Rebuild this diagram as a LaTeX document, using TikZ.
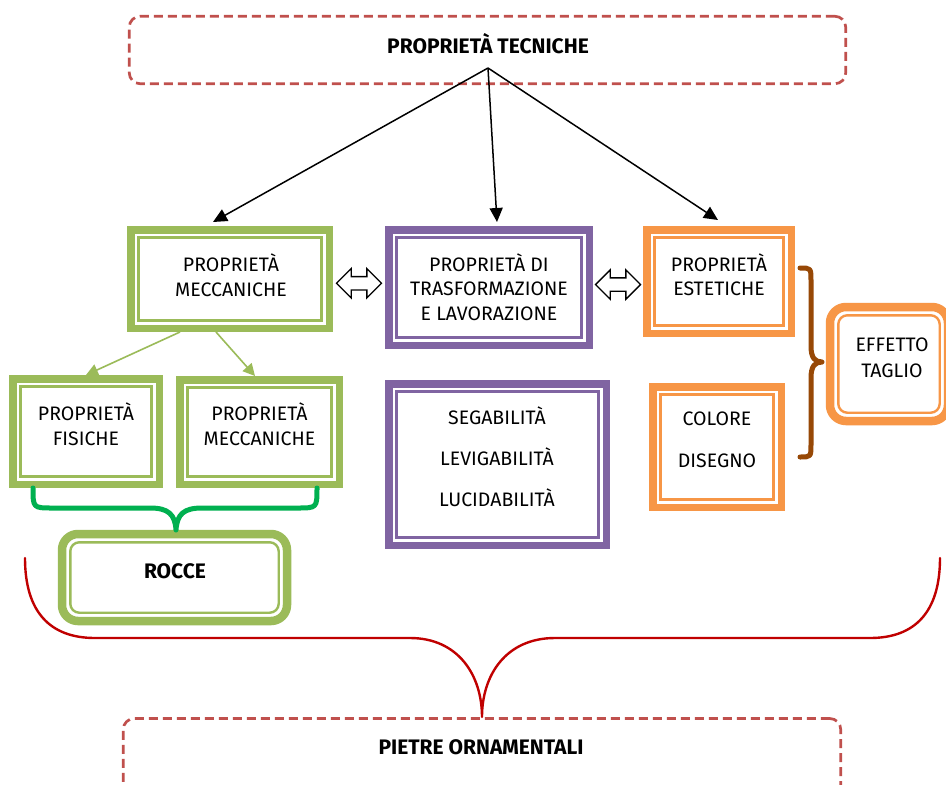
\documentclass[tikz,border=0pt]{standalone}
\usepackage{fontspec}
\setmainfont{Fira Sans}
\usetikzlibrary{shapes.arrows, arrows.meta, calc}

\definecolor{gcol}{HTML}{9BBB59}
\definecolor{pcol}{HTML}{8064A2}
\definecolor{ocol}{HTML}{F79646}
\definecolor{dashred}{HTML}{C0504D}
\definecolor{bracered}{HTML}{C00000}
\definecolor{bracegreen}{HTML}{00B050}
\definecolor{bracebrown}{HTML}{974806}

\tikzset{
  % square box: thick outer frame plus a thin inner frame
  dbox/.style={draw=#1, line width=7.5pt, inner sep=0pt, fill=white,
    path picture={\draw[draw=#1, line width=2.4pt]
      ([shift={(7.8pt,-7.8pt)}]path picture bounding box.north west) rectangle
      ([shift={(-7.8pt,7.8pt)}]path picture bounding box.south east);}},
  % rounded box with the same double frame
  rbox/.style={draw=#1, line width=8.5pt, inner sep=0pt, fill=white, rounded corners=16pt,
    path picture={\draw[draw=#1, line width=2.4pt, rounded corners=9pt]
      ([shift={(8.3pt,-8.3pt)}]path picture bounding box.north west) rectangle
      ([shift={(-8.3pt,8.3pt)}]path picture bounding box.south east);}},
  dashbox/.style={draw=dashred, line width=2.7pt, dash pattern=on 9pt off 5pt,
    rounded corners=11pt, inner sep=0pt},
  txt/.style={align=center, inner sep=0pt, font=\fontsize{19.5}{24.5}\selectfont},
  btxt/.style={align=center, inner sep=0pt, font=\fontsize{21}{24}\selectfont\bfseries},
  blk/.style={line width=1.5pt, -{Triangle[length=14pt,width=13pt]}},
  garr/.style={draw=gcol, line width=1.6pt, -{Triangle[length=12pt,width=12pt]}, color=gcol},
  dblarrow/.style={double arrow, draw=black, line width=1.4pt, fill=white,
    inner xsep=0pt, inner ysep=6pt, minimum height=45pt, double arrow head extend=8pt},
  brace/.style={line width=#1, line cap=round, line join=round},
}

\begin{document}
\begin{tikzpicture}[x=1pt, y=-1pt]
\clip (0,0) rectangle (946,785);
\fill[white] (0,0) rectangle (946,785);

% dashed title boxes
\node[dashbox, minimum width=716.5pt, minimum height=67.5pt] (tech) at (487.5,50) {};
\node[btxt] (techt) at (488,44) {PROPRIETÀ TECNICHE};
\node[dashbox, minimum width=717.5pt, minimum height=80pt] (orn) at (482,758.5) {};
\node[btxt] (ornt) at (481,747) {PIETRE ORNAMENTALI};

% first row
\node[dbox=gcol, minimum width=198.5pt, minimum height=98.5pt] (gm) at (230,279) {};
\node[txt] (gmt) at (231,275) {PROPRIETÀ\\MECCANICHE};
\node[dbox=pcol, minimum width=200.5pt, minimum height=115.5pt] (pt) at (489,287.5) {};
\node[txt] (ptt) at (489,287) {PROPRIETÀ DI\\TRASFORMAZIONE\\E LAVORAZIONE};
\node[dbox=ocol, minimum width=144.5pt, minimum height=103.5pt] (pe) at (719,281.5) {};
\node[txt] (pet) at (719,274.5) {PROPRIETÀ\\ESTETICHE};

% second row
\node[dbox=gcol, minimum width=146.5pt, minimum height=105.5pt] (pf) at (86,431.5) {};
\node[txt] (pft) at (86,424) {PROPRIETÀ\\FISICHE};
\node[dbox=gcol, minimum width=159.5pt, minimum height=104.5pt] (pm) at (259.5,432) {};
\node[txt] (pmt) at (259.5,424) {PROPRIETÀ\\MECCANICHE};
\node[dbox=pcol, minimum width=217.5pt, minimum height=161.5pt] (ps) at (497.5,464.5) {};
\node[txt, font=\fontsize{19.5}{41}\selectfont] (pst) at (497,457) {SEGABILITÀ\\LEVIGABILITÀ\\LUCIDABILITÀ};
\node[dbox=ocol, minimum width=128.5pt, minimum height=120.5pt] (cd) at (717,447) {};
\node[txt, font=\fontsize{19.5}{42}\selectfont] (cdt) at (717,440) {COLORE\\DISEGNO};

% rounded boxes
\node[rbox=ocol, minimum width=118pt, minimum height=114pt] (eff) at (889,364) {};
\node[txt, font=\fontsize{19.5}{26}\selectfont] (efft) at (892,358) {EFFETTO\\TAGLIO};
\node[rbox=gcol, minimum width=225pt, minimum height=87pt] (rocce) at (174.5,577.5) {};
\node[btxt] (roccet) at (175,571) {ROCCE};

% arrows from the title
\coordinate (apex) at (488,68);
\draw[blk] (apex) -- ([xshift=-17pt,yshift=4pt]gm.north);
\draw[blk] (apex) -- ([xshift=8pt,yshift=4pt]pt.north);
\draw[blk] (apex) -- ([xshift=-1pt,yshift=6pt]pe.north);

% hollow double arrows
\node[dblarrow] (a1) at ($(gm.east)!0.5!(pt.west)$) {};
\node[dblarrow] (a2) at ($(pt.east)!0.5!(pe.west)$) {};

% green arrows
\draw[garr] ([xshift=-50pt]gm.south) -- (pf.north);
\draw[garr] ([xshift=-14pt]gm.south) -- ([xshift=-4.5pt]pm.north);

% brown brace towards EFFETTO TAGLIO
\draw[brace=5pt, bracebrown] (800,268) .. controls (811,268) .. (811,281) -- (811,346)
  .. controls (811,358) and (815,362) .. (822,362)
  .. controls (815,362) and (811,366) .. (811,378) -- (811,444)
  .. controls (811,457) .. (800,457);

% green brace towards ROCCE
\draw[brace=5pt, bracegreen] (33,488) .. controls (33,508) .. (53,508) -- (150,508)
  .. controls (168,508) and (175,514) .. (176,530)
  .. controls (177,514) and (184,508) .. (202,508) -- (297,508)
  .. controls (317,508) .. (317,488);

% red brace towards PIETRE ORNAMENTALI
\draw[brace=2.4pt, bracered] (25,558) .. controls (25,612) and (50,638) .. (95,638) -- (410,638)
  .. controls (458,638) and (482,675) .. (482,717)
  .. controls (482,675) and (506,638) .. (555,638) -- (870,638)
  .. controls (915,638) and (940,612) .. (940,558);
\end{tikzpicture}
\end{document}
